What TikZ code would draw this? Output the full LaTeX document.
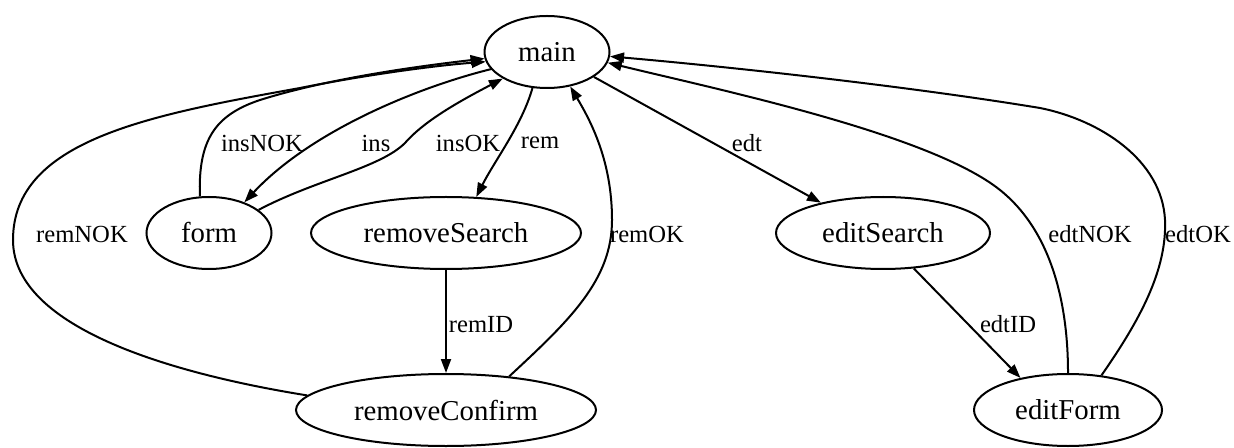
\documentclass[tikz,border=0pt]{standalone}
\usepackage{fontspec}
\setmainfont{Liberation Serif}
\usetikzlibrary{shapes.geometric,arrows.meta}
\begin{document}
\begin{tikzpicture}[x=0.5pt,y=-0.5pt,
  state/.style={ellipse,draw,line width=1pt,inner sep=0pt,minimum height=36pt,font=\fontsize{14.4pt}{16pt}\selectfont},
  edge/.style={line width=1pt,-{Triangle[length=7pt,width=5pt]}},
  lbl/.style={font=\fontsize{12.3pt}{14pt}\selectfont,inner sep=0pt}]
\useasboundingbox (0,0) rectangle (1234,448);
% states
\node[state,minimum width=62.5pt] (main) at (547,52) {main};
\node[state,minimum width=62.5pt] (form) at (209,233) {form};
\node[state,minimum width=135pt] (removeSearch) at (446,233) {removeSearch};
\node[state,minimum width=107pt] (editSearch) at (883,233) {editSearch};
\node[state,minimum width=150pt] (removeConfirm) at (446,410) {removeConfirm};
\node[state,minimum width=94pt] (editForm) at (1068,410) {editForm};
% edges
\draw[edge] (main.197) .. controls (415,88) and (310,132) .. (form.41);
\draw[edge] (form.25) .. controls (315,180) and (380,168) .. (405,143) .. controls (425,120) and (462,100) .. (main.211);
\draw[edge] (form.104) .. controls (198,140) and (215,115) .. (260,100) .. controls (330,78) and (420,66) .. (main.186);
\draw[edge] (removeConfirm.174) .. controls (180,375) and (13,330) .. (13,240) .. controls (13,140) and (150,115) .. (300,88) .. controls (360,76) and (430,66) .. (main.189);
\draw[edge] (main.248) .. controls (522,125) and (495,160) .. (removeSearch.50);
\draw[edge] (removeConfirm.28) .. controls (570,320) and (612,280) .. (612,220) .. controls (612,160) and (590,120) .. (main.304);
\draw[edge] (removeSearch.south) -- (removeConfirm.north);
\draw[edge] (main.332) -- (editSearch.154);
\draw[edge] (editSearch.311) -- (editForm.146);
\draw[edge] (editForm.north) .. controls (1068,300) and (1050,230) .. (1000,190) .. controls (930,134) and (720,90) .. (main.350);
\draw[edge] (editForm.46) .. controls (1140,320) and (1167,270) .. (1165,220) .. controls (1162,160) and (1100,120) .. (1040,108) .. controls (900,85) and (720,66) .. (main.356);
% labels
\node[lbl] (lInsNOK) at (262,143) {insNOK};
\node[lbl] (lIns) at (376,143) {ins};
\node[lbl] (lInsOK) at (468,143) {insOK};
\node[lbl] (lRem) at (540,143) {rem};
\node[lbl] (lEdt) at (747,143) {edt};
\node[lbl] (lRemNOK) at (82,234) {remNOK};
\node[lbl] (lRemOK) at (647,234) {remOK};
\node[lbl] (lEdtNOK) at (1090,234) {edtNOK};
\node[lbl] (lEdtOK) at (1198,234) {edtOK};
\node[lbl] (lRemID) at (481,325) {remID};
\node[lbl] (lEdtID) at (1008,324) {edtID};
\end{tikzpicture}
\end{document}
